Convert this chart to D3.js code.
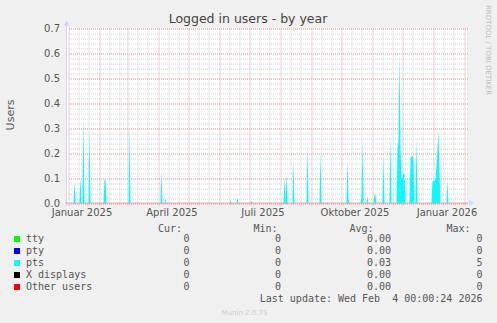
<!DOCTYPE html>
<html>
<head>
<meta charset="utf-8">
<script src="https://d3js.org/d3.v7.min.js"></script>
<style>
  body { margin: 0; background: #f0f0f0; }
  svg { display: block; }
  text { font-family: "DejaVu Sans", sans-serif; fill: #555; }
  .mono { font-family: "DejaVu Sans Mono", monospace; font-size: 10px; fill: #555; }
</style>
</head>
<body>
<svg id="chart"></svg>
<script>
// pts samples (daily averages), everything else is zero
const ptsDays = [
  "2025-01-07", "2025-01-13", "2025-01-16", "2025-01-22", "2025-02-06", "2025-02-07",
  "2025-03-03", "2025-04-04", "2025-04-08", "2025-06-12", "2025-06-19", "2025-07-03",
  "2025-08-05", "2025-08-07", "2025-08-14", "2025-08-28", "2025-09-10", "2025-09-17",
  "2025-10-07", "2025-10-08", "2025-10-21", "2025-10-22", "2025-10-27", "2025-11-03",
  "2025-11-04", "2025-11-12", "2025-11-19", "2025-11-26", "2025-11-27", "2025-11-28",
  "2025-11-29", "2025-11-30", "2025-12-01", "2025-12-02", "2025-12-03", "2025-12-09",
  "2025-12-10", "2025-12-11", "2025-12-12", "2025-12-15", "2025-12-31", "2026-01-01",
  "2026-01-02", "2026-01-03", "2026-01-04", "2026-01-05", "2026-01-06", "2026-01-07",
  "2026-01-15"
];
const ptsValues = [
  0.086, 0.11, 0.35, 0.3, 0.1, 0.09,
  0.3, 0.13, 0.02, 0.013, 0.025, 0.012,
  0.11, 0.12, 0.165, 0.23, 0.21, 0.006,
  0.17, 0.02, 0.027, 0.25, 0.027, 0.04,
  0.03, 0.19, 0.27, 0.22, 0.25, 0.6,
  0.22, 0.1, 0.1, 0.12, 0.12, 0.18,
  0.19, 0.19, 0.17, 0.26, 0.09, 0.09,
  0.09, 0.1, 0.15, 0.22, 0.29, 0.12,
  0.093
];

const yTicks = [0, 0.1, 0.2, 0.3, 0.4, 0.5, 0.6, 0.7];
const monthLabelDates = ["2025-01-01", "2025-04-01", "2025-07-01", "2025-10-01", "2026-01-01"];
const monthLabels = ["Januar 2025", "April 2025", "Juli 2025", "Oktober 2025", "Januar 2026"];

const seriesNames = ["tty", "pty", "pts", "X displays", "Other users"];
const seriesColors = ["#00ff00", "#0000ff", "#00ffff", "#000000", "#ff0000"];
const curValues = ["0", "0", "0", "0", "0"];
const minValues = ["0", "0", "0", "0", "0"];
const avgValues = ["0.00", "0.00", "0.03", "0.00", "0.00"];
const maxValues = ["0", "0", "5", "0", "0"];

const width = 497, height = 323;
const pLeft = 67, pRight = 467, pTop = 28.5, pBottom = 203.5;
const parse = d3.utcParse("%Y-%m-%d");
const start = parse("2024-12-31"), end = parse("2026-02-04");

const svg = d3.select("#chart").attr("width", width).attr("height", height);

const x = d3.scaleUtc().domain([start, end]).range([pLeft, pRight]);
const y = d3.scaleLinear().domain([0, 0.7]).range([pBottom, pTop]);

// canvas
svg.append("rect")
  .attr("x", pLeft).attr("y", pTop - 0.5)
  .attr("width", pRight - pLeft).attr("height", pBottom - pTop)
  .attr("fill", "#fff");

// minor grid
const minorY = d3.range(0, 0.7001, 0.02);
svg.append("g")
  .attr("transform", `translate(${pLeft},0)`)
  .call(d3.axisLeft(y).tickValues(minorY).tickSize(-(pRight - pLeft + 1)).tickFormat(""))
  .call(g => g.select(".domain").remove())
  .call(g => g.selectAll("line").attr("stroke", "#d2d2d2").attr("stroke-dasharray", "1,1").attr("x1", 2));

const minorX = d3.utcDay.every(10).range(start, end)
  .filter(d => d.getUTCDate() !== 1 && d.getUTCDate() !== 31);
svg.append("g")
  .attr("transform", `translate(0,${pBottom})`)
  .call(d3.axisBottom(x).tickValues(minorX).tickSize(-(pBottom - pTop)).tickFormat(""))
  .call(g => g.select(".domain").remove())
  .call(g => g.selectAll("line").attr("stroke", "#d2d2d2").attr("stroke-dasharray", "1,1")
    .attr("transform", "translate(0.5,0)").attr("y1", 2));

// major grid
svg.append("g")
  .attr("transform", `translate(${pLeft},0)`)
  .call(d3.axisLeft(y).tickValues(yTicks).tickSize(-(pRight - pLeft + 1)).tickFormat(""))
  .call(g => g.select(".domain").remove())
  .call(g => g.selectAll("line").attr("stroke", "#e6a0a0").attr("stroke-dasharray", "1,1").attr("x1", 2));

const months = d3.utcMonth.range(start, end);
svg.append("g")
  .attr("transform", `translate(0,${pBottom})`)
  .call(d3.axisBottom(x).tickValues(months).tickSize(-(pBottom - pTop)).tickFormat(""))
  .call(g => g.select(".domain").remove())
  .call(g => g.selectAll("line").attr("stroke", "#e6a0a0").attr("stroke-dasharray", "1,1")
    .attr("transform", "translate(0.5,0)").attr("y1", 2));

// pts area
const lookup = new Map(ptsDays.map((d, i) => [d, ptsValues[i]]));
const fmt = d3.utcFormat("%Y-%m-%d");
const series = d3.utcDay.range(start, d3.utcDay.offset(end, 1))
  .map(d => ({ date: d, v: lookup.get(fmt(d)) || 0 }));
const area = d3.area()
  .x(d => x(d.date) + 0.5)
  .y0(y(0))
  .y1(d => y(d.v));
svg.append("path")
  .datum(series)
  .attr("d", area)
  .attr("fill", "#00ffff");

// axes
svg.append("line")
  .attr("x1", pLeft - 0.5).attr("x2", pLeft - 0.5)
  .attr("y1", pBottom + 2).attr("y2", pTop - 5)
  .attr("stroke", "#cfd6f8");
svg.append("path")
  .attr("d", `M${pLeft - 3.5},${pTop - 3} L${pLeft + 2.5},${pTop - 3} L${pLeft - 0.5},${pTop - 8} Z`)
  .attr("fill", "#cfd6f8");
svg.append("line")
  .attr("x1", pLeft - 2).attr("x2", pRight + 1)
  .attr("y1", pBottom - 0.5).attr("y2", pBottom - 0.5)
  .attr("stroke", "#e3a0a0");
svg.append("path")
  .attr("d", `M${pRight + 2},${pBottom - 3.5} L${pRight + 2},${pBottom + 2.5} L${pRight + 7},${pBottom - 0.5} Z`)
  .attr("fill", "#cfd6f8");

// y tick labels
svg.append("g")
  .selectAll("text")
  .data(yTicks)
  .join("text")
    .attr("x", pLeft - 7)
    .attr("y", d => y(d))
    .attr("dy", "0.35em")
    .attr("text-anchor", "end")
    .style("font-size", "10px")
    .text(d3.format(".1f"));

// x labels (centered mid-month)
svg.append("g")
  .selectAll("text")
  .data(monthLabelDates)
  .join("text")
    .attr("x", d => x(d3.utcDay.offset(parse(d), 14)))
    .attr("y", 216)
    .attr("text-anchor", "middle")
    .style("font-size", "10px")
    .text((d, i) => monthLabels[i]);

// title and side texts
svg.append("text")
  .attr("x", 248).attr("y", 23)
  .attr("text-anchor", "middle")
  .style("font-size", "12.5px")
  .style("fill", "#444")
  .text("Logged in users - by year");

svg.append("text")
  .attr("transform", "translate(14,115) rotate(-90)")
  .attr("text-anchor", "middle")
  .style("font-size", "11px")
  .text("Users");

svg.append("text")
  .attr("transform", "translate(485.5,5) rotate(90)")
  .attr("text-anchor", "start")
  .style("font-size", "7px")
  .style("fill", "#bbb")
  .text("RRDTOOL / TOBI OETIKER");

// legend
const headers = [["Cur:", 182], ["Min:", 277.5], ["Avg:", 373.5], ["Max:", 470.5]];
svg.append("g")
  .selectAll("text")
  .data(headers)
  .join("text")
    .attr("class", "mono")
    .attr("x", d => d[1]).attr("y", 231.5)
    .attr("text-anchor", "end")
    .text(d => d[0]);

const rows = svg.append("g")
  .selectAll("g")
  .data(seriesNames)
  .join("g")
    .attr("transform", (d, i) => `translate(0,${242 + i * 12})`);
rows.append("rect")
  .attr("x", 14).attr("y", -6)
  .attr("width", 6).attr("height", 6)
  .attr("fill", (d, i) => seriesColors[i]);
rows.append("text")
  .attr("class", "mono")
  .attr("x", 26)
  .text(d => d);
const cols = [[curValues, 189.5], [minValues, 281], [avgValues, 391], [maxValues, 482.5]];
cols.forEach(([vals, cx]) => {
  rows.append("text")
    .attr("class", "mono")
    .attr("x", cx)
    .attr("text-anchor", "end")
    .text((d, i) => vals[i]);
});

svg.append("text")
  .attr("class", "mono")
  .attr("x", 482.5).attr("y", 301.5)
  .attr("text-anchor", "end")
  .style("white-space", "pre")
  .text("Last update: Wed Feb  4 00:00:24 2026");

svg.append("text")
  .attr("x", 244.5).attr("y", 315)
  .attr("text-anchor", "middle")
  .style("font-size", "7px")
  .style("fill", "#ccc")
  .text("Munin 2.0.75");
</script>
</body>
</html>
